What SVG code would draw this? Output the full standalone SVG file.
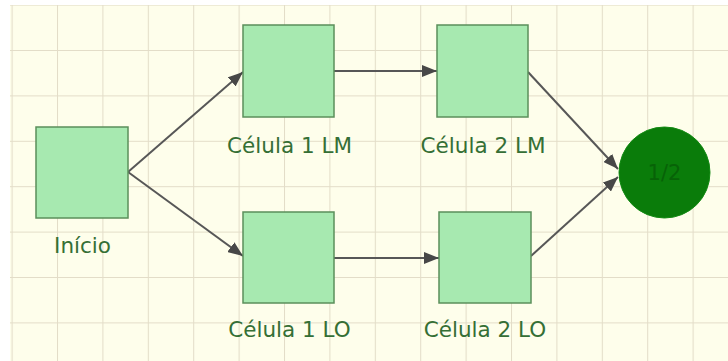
<svg xmlns="http://www.w3.org/2000/svg" width="728" height="361" viewBox="0 0 728 361">
  <defs>
    <pattern id="grid" x="11.6" y="4.6" width="45.4" height="45.4" patternUnits="userSpaceOnUse">
      <rect width="45.4" height="45.4" fill="#fefeeb"/>
      <path d="M0 0 H45.4 M0 0 V45.4" stroke="#e3ddc8" stroke-width="2" fill="none"/>
    </pattern>
    <marker id="arr" viewBox="0 0 15 12" refX="15" refY="6" markerWidth="15" markerHeight="12" markerUnits="userSpaceOnUse" orient="auto">
      <path d="M0 0 L15 6 L0 12 Z" fill="#474747"/>
    </marker>
  </defs>
  <style>
    .box { fill: #a7e9b0; stroke: #5b8f5b; stroke-width: 1.5; }
    .lbl { font-family: "DejaVu Sans", Verdana, sans-serif; font-size: 21.5px; fill: #356f35; text-anchor: middle; }
    .edge { stroke: #575757; stroke-width: 2; fill: none; marker-end: url(#arr); }
  </style>
  <rect width="728" height="361" fill="#ffffff"/>
  <rect x="10" y="5" width="718" height="356" fill="url(#grid)"/>

  <g id="connectors">
    <line class="edge" x1="128" y1="172" x2="243" y2="72"/>
    <line class="edge" x1="128" y1="172" x2="243" y2="256"/>
    <line class="edge" x1="334" y1="71" x2="437" y2="71"/>
    <line class="edge" x1="334" y1="258" x2="439" y2="258"/>
    <line class="edge" x1="528" y1="72" x2="618" y2="169"/>
    <line class="edge" x1="531" y1="256" x2="618" y2="177"/>
  </g>

  <g id="inicio">
    <rect class="box" x="36" y="127" width="92" height="91"/>
    <text class="lbl" x="82.5" y="253">Início</text>
  </g>
  <g id="celula1lm">
    <rect class="box" x="243" y="25" width="91" height="92"/>
    <text class="lbl" x="289.5" y="153">Célula 1 LM</text>
  </g>
  <g id="celula2lm">
    <rect class="box" x="437" y="25" width="91" height="92"/>
    <text class="lbl" x="483" y="153">Célula 2 LM</text>
  </g>
  <g id="celula1lo">
    <rect class="box" x="243" y="212" width="91" height="91"/>
    <text class="lbl" x="289.5" y="337">Célula 1 LO</text>
  </g>
  <g id="celula2lo">
    <rect class="box" x="439" y="212" width="92" height="91"/>
    <text class="lbl" x="485" y="337">Célula 2 LO</text>
  </g>
  <g id="fim">
    <circle cx="664.5" cy="172.5" r="45.5" fill="#0a7c0a" stroke="#138a13" stroke-width="1"/>
    <text x="664.5" y="180" font-family="DejaVu Sans, Verdana, sans-serif" font-size="21" fill="#076207" text-anchor="middle">1/2</text>
  </g>
</svg>
